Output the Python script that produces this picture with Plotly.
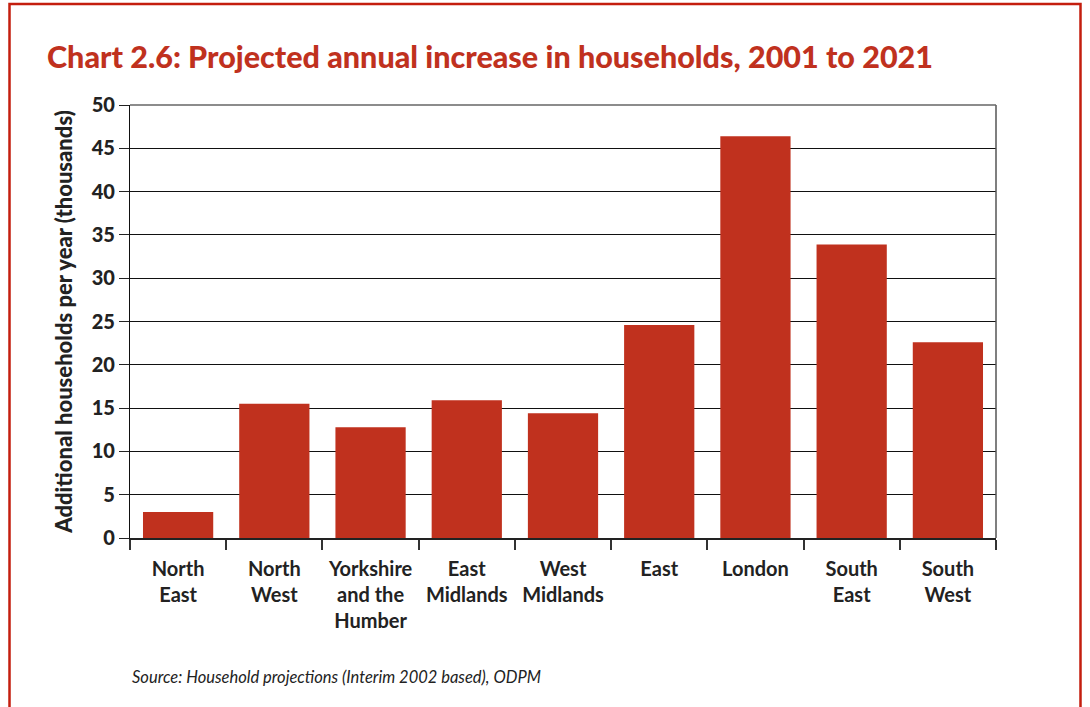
import plotly.graph_objects as go

regions = ["North<br>East", "North<br>West", "Yorkshire<br>and the<br>Humber", "East<br>Midlands",
           "West<br>Midlands", "East", "London", "South<br>East", "South<br>West"]
values = [3.0, 15.5, 12.8, 15.9, 14.4, 24.6, 46.4, 33.9, 22.6]
y_ticks = [0, 5, 10, 15, 20, 25, 30, 35, 40, 45, 50]

L, R, T, B = 130, 94, 105, 169
W, H = 1090, 707
pw, ph = W - L - R, H - T - B

def px_x(x):
    return (x - L) / pw

def px_y(y):
    return (H - B - y) / ph

fig = go.Figure(go.Bar(x=regions, y=values, marker=dict(color="#C0311E", line=dict(width=0)),
                       hoverinfo="x+y"))

fig.update_layout(
    width=W, height=H,
    margin=dict(l=L, r=R, t=T, b=B),
    paper_bgcolor="white", plot_bgcolor="white",
    bargap=0.27,
    showlegend=False,
    font=dict(family="Lato", color="#222222"),
    title=dict(text="Chart 2.6: Projected annual increase in households, 2001 to 2021",
               x=47 / W, xanchor="left", y=1 - 57 / H, yanchor="middle",
               font=dict(size=30.5, color="#C0311E", family="Lato", weight=900)),
    xaxis=dict(type="category", tickson="boundaries", ticks="outside", ticklen=10, tickwidth=1.5,
               tickcolor="#333", showline=True, linecolor="#222", linewidth=1.5,
               mirror=False, showgrid=False,
               tickfont=dict(size=20, family="Lato", color="#222", weight="bold"),
               ticklabelstandoff=12),
    yaxis=dict(range=[0, 50], tickvals=y_ticks, ticks="outside", ticklen=10, tickwidth=1.2,
               tickcolor="#222", showline=True, linecolor="#111", linewidth=1.2,
               showgrid=True, gridcolor="#111", gridwidth=1, zeroline=False,
               tickfont=dict(size=20, family="Lato", color="#222", weight=900),
               title=dict(text="Additional households per year (thousands)",
                          font=dict(size=22, family="Lato", color="#222", weight=900),
                          standoff=12)),
    shapes=[
        dict(type="line", xref="paper", yref="paper", x0=1, x1=1, y0=0, y1=1,
             line=dict(color="#555", width=1.5)),
        dict(type="line", xref="paper", yref="paper", x0=0, x1=1, y0=1, y1=1,
             line=dict(color="#666", width=1.5)),
        dict(type="rect", xref="paper", yref="paper",
             x0=px_x(9.5), x1=px_x(1080.5), y0=px_y(760), y1=px_y(4),
             line=dict(color="#C41E0E", width=2.5), fillcolor="rgba(0,0,0,0)", layer="below"),
    ],
    annotations=[
        dict(text="<i>Source: Household projections (Interim 2002 based), ODPM</i>",
             xref="paper", yref="paper", x=px_x(130), y=px_y(677), xanchor="left", yanchor="middle",
             showarrow=False, font=dict(size=16.5, family="Lato", color="#222")),
    ],
)

fig.write_html("out.html", config={"displayModeBar": False},
               post_script="document.body.style.margin='0';document.body.style.overflow='hidden';")
